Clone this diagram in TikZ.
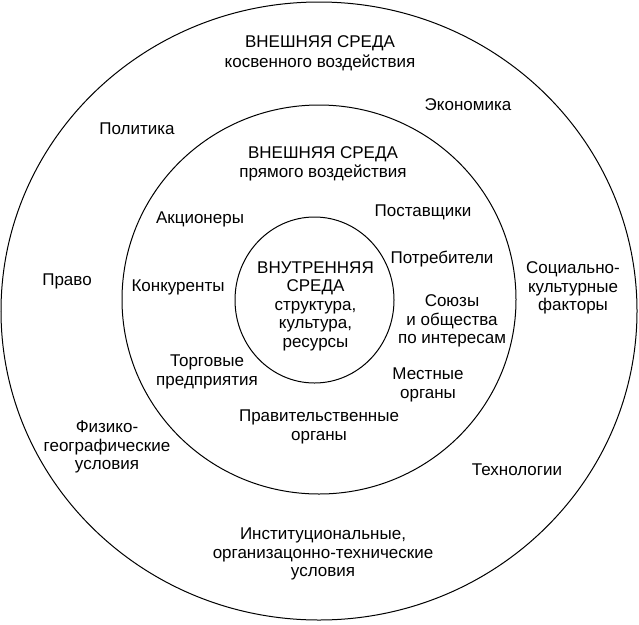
\documentclass[tikz,border=0pt]{standalone}
\usepackage{fontspec}
\setmainfont{Liberation Sans}
\usepackage{tikz}
\usetikzlibrary{positioning}
\tikzstyle{ring} = [draw, line width=1pt]
\tikzstyle{ringtext} = [align=center, inner sep=0pt, font=\fontsize{17}{18.5}\selectfont]

\begin{document}
\begin{tikzpicture}[x=1pt, y=-1pt]
        \useasboundingbox (0, 0) rectangle (639, 624);
        \draw[ring] (319, 311) ellipse [x radius=318, y radius=309];
        \draw[ring] (319, 299.5) ellipse [x radius=197, y radius=194.5];
        \draw[ring] (314.5, 300) ellipse [x radius=79.5, y radius=83];

        % outer ring
        \node[ringtext] at (320, 53) (OuterTitle) {ВНЕШНЯЯ СРЕДА\\[1.5pt]косвенного воздействия};
        \node[ringtext] at (468, 105) (Economy) {Экономика};
        \node[ringtext] at (137, 129) (Politics) {Политика};
        \node[ringtext] at (67, 281) (Law) {Право};
        \node[ringtext] at (573, 288) (Social) {Социально-\\культурные\\факторы};
        \node[ringtext] at (107, 447) (Geography) {Физико-\\географические\\условия};
        \node[ringtext] at (517, 470) (Technology) {Технологии};
        \node[ringtext] at (323, 554) (Institutions) {Институциональные,\\организацонно-технические\\условия};

        % middle ring
        \node[ringtext] at (323, 164) (MiddleTitle) {ВНЕШНЯЯ СРЕДА\\прямого воздействия};
        \node[ringtext] at (200, 219) (Shareholders) {Акционеры};
        \node[ringtext] at (423, 212) (Suppliers) {Поставщики};
        \node[ringtext] at (442, 259) (Consumers) {Потребители};
        \node[ringtext] at (178, 287) (Rivals) {Конкуренты};
        \node[ringtext] at (452, 321) (Unions) {Союзы\\и общества\\по интересам};
        \node[ringtext] at (207, 372) (Trade) {Торговые\\предприятия};
        \node[ringtext] at (428, 385) (Local) {Местные\\органы};
        \node[ringtext] at (319, 427) (Government) {Правительственные\\органы};

        % inner circle
        \node[ringtext] at (315.5, 306) (Inner) {ВНУТРЕННЯЯ\\СРЕДА\\структура,\\культура,\\ресурсы};
    \end{tikzpicture}
\end{document}
